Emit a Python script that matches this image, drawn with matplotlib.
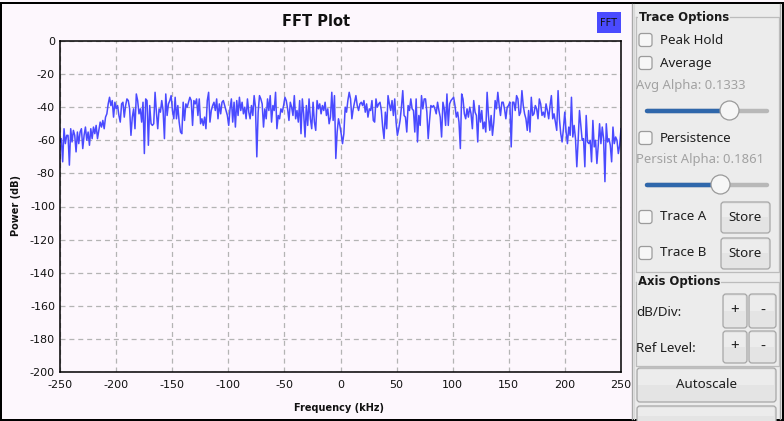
import numpy as np
import matplotlib
matplotlib.use("Agg")
import matplotlib.pyplot as plt
from matplotlib.patches import Rectangle, FancyBboxPatch, Circle

# ---------------- data ----------------
title = "FFT Plot"
x_label = "Frequency (kHz)"
y_label = "Power (dB)"
legend_label = "FFT"
freq_start, freq_stop = -250, 250
x_ticks = [-250, -200, -150, -100, -50, 0, 50, 100, 150, 200, 250]
y_ticks = [0, -20, -40, -60, -80, -100, -120, -140, -160, -180, -200]

power_seg1 = [-61, -59, -73, -53, -62, -57, -57, -75, -53, -61,
              -54, -57, -67, -55, -62, -55, -53, -65, -57, -52,
              -60, -55, -63, -53, -59, -52, -56, -51, -59, -54,
              -49, -52, -48, -53, -46, -44, -38, -34, -39, -36,
              -46, -37, -41, -39, -45, -49, -38, -37, -46, -39,
              -35, -36, -41, -57, -46, -41, -53, -32, -36, -44,
              -41, -49, -37, -68, -35, -36, -63, -39, -50, -51,
              -50, -31, -43, -53, -41, -43, -36, -42, -59, -32,
              -45, -38, -36, -33, -42, -47, -34, -47, -39, -49,
              -55, -56, -37, -48, -38, -40, -37, -34, -36, -51,
              -36, -38, -35, -45, -35, -50]
power_seg2 = [-47, -51, -46, -53, -36, -31, -49, -42, -39, -37,
              -42, -35, -47, -38, -44, -37, -36, -39, -42, -45,
              -51, -41, -35, -49, -37, -52, -36, -45, -34, -42,
              -37, -44, -40, -47, -35, -43, -47, -39, -45, -33,
              -40, -70, -43, -33, -35, -38, -52, -41, -47, -35,
              -42, -33, -49, -39, -42, -31, -53, -45, -47, -41,
              -43, -39, -34, -36, -41, -48, -37, -40, -45, -33,
              -47, -42, -49, -36, -56, -35, -44, -58, -39, -51,
              -35, -47, -53, -37, -49, -54, -36, -41, -38, -44,
              -39, -42, -37, -45, -41, -50, -46, -31, -48, -33,
              -71, -55, -47, -51, -56]
power_seg3 = [-62, -56, -40, -43, -36, -31, -35, -47, -41, -37,
              -33, -39, -42, -38, -37, -39, -36, -43, -38, -46,
              -41, -42, -36, -48, -49, -35, -40, -38, -37, -42,
              -52, -59, -43, -53, -33, -38, -42, -36, -45, -35,
              -49, -57, -53, -48, -40, -30, -45, -46, -55, -39,
              -42, -35, -41, -42, -55, -35, -61, -45, -51, -33,
              -41, -35, -35, -43, -59, -48, -39, -40, -39, -41,
              -44, -37, -42, -46, -58, -37, -41, -51, -32, -51,
              -38, -36, -35, -34, -39, -46, -43, -49, -65, -32,
              -35, -44, -47, -41, -46, -40, -44, -53, -36, -43,
              -45, -61, -39, -49, -42]
power_seg4 = [-53, -49, -55, -31, -45, -54, -45, -57, -49, -36,
              -41, -31, -39, -45, -37, -37, -41, -47, -40, -39,
              -37, -64, -37, -37, -42, -33, -35, -45, -43, -30,
              -39, -44, -47, -54, -42, -55, -34, -45, -44, -39,
              -41, -47, -35, -38, -45, -43, -46, -38, -42, -47,
              -39, -33, -47, -44, -49, -54, -30, -47, -56, -61,
              -53, -43, -55, -62, -52, -57, -34, -58, -51, -59,
              -76, -60, -42, -51, -60, -59, -76, -45, -61, -62,
              -60, -73, -48, -64, -60, -74, -63, -50, -62, -52,
              -59, -85, -50, -61, -59, -63, -73, -52, -62, -58,
              -60, -68, -63, -53]

power_db = np.array(power_seg1 + power_seg2 + power_seg3 + power_seg4, dtype=float)
freq_khz = np.linspace(freq_start, freq_stop, len(power_db))

# GUI panel texts
trace_group = "Trace Options"
axis_group = "Axis Options"
check_labels = ["Peak Hold", "Average", "Persistence", "Trace A", "Trace B"]
avg_alpha_label = "Avg Alpha: 0.1333"
persist_alpha_label = "Persist Alpha: 0.1861"
store_label = "Store"
axis_rows = ["dB/Div:", "Ref Level:"]
autoscale_label = "Autoscale"

# ---------------- style ----------------
W, H = 784, 421
plt.rcParams["axes.unicode_minus"] = False
plt.rcParams["lines.scale_dashes"] = False
bg = "#fdf7fd"
line_blue = "#4a4aff"
panel_bg = "#ececec"
gui_font = "Noto Sans"

fig = plt.figure(figsize=(W / 100, H / 100), dpi=100)
fig.patch.set_facecolor(bg)

def fx(px):
    return px / W

def fy(py):
    return 1 - py / H

ax = fig.add_axes([fx(60), fy(372), fx(621) - fx(60), fy(41) - fy(372)])
ax.set_facecolor(bg)
ax.plot(freq_khz, power_db, color=line_blue, lw=1.1)
ax.set_xlim(freq_start, freq_stop)
ax.set_ylim(y_ticks[-1], y_ticks[0])
ax.set_xticks(x_ticks)
ax.set_yticks(y_ticks)
ax.grid(True, color="#b4b4b4", linestyle=(0, (3.6, 2.8)), lw=0.9)
ax.tick_params(axis="x", length=0, pad=6.0, labelsize=8, colors="#111111")
ax.tick_params(axis="y", length=0, pad=3.6, labelsize=8, colors="#111111")
for s in ax.spines.values():
    s.set_color("black")
    s.set_linewidth(1.1)

# overlay in pixel coordinates
ov = fig.add_axes([0, 0, 1, 1], zorder=5)
ov.set_xlim(0, W)
ov.set_ylim(H, 0)
ov.axis("off")
ov.patch.set_alpha(0)

ov.text(316, 21, title, ha="center", va="center", fontsize=10.5, fontweight="bold", color="#111111")
ov.add_patch(Rectangle((597, 12), 24, 21, facecolor=line_blue, edgecolor="none"))
ov.text(609, 22.5, legend_label, ha="center", va="center", fontsize=7, color="#111111")
ov.text(16, 206, y_label, ha="center", va="center", rotation=90, fontsize=7, fontweight="bold", color="#111111")
ov.text(339, 408, x_label, ha="center", va="center", fontsize=7, fontweight="bold", color="#111111")

# outer frame
ov.add_patch(Rectangle((0, 1.5), W, 2.8, facecolor="black", edgecolor="none"))
ov.add_patch(Rectangle((0, 418.5), W, 2.5, facecolor="black", edgecolor="none"))
ov.add_patch(Rectangle((0, 1.5), 2.3, H, facecolor="black", edgecolor="none"))

# right panel
ov.add_patch(Rectangle((632, 4.3), 150, 414.2, facecolor=panel_bg, edgecolor="none"))
ov.plot([632.5, 632.5], [4.3, 418.5], color="#a8a8a8", lw=1)
ov.plot([634.5, 634.5], [4.3, 418.5], color="#d8d8d8", lw=0.8)
ov.plot([780.5, 780.5], [4.3, 418.5], color="#a8a8a8", lw=1)
ov.add_patch(Rectangle((782, 1.5), 2, H, facecolor="black", edgecolor="none"))

grp_col = "#bcbcbc"
# Trace options group
ov.plot([636, 779, 779, 636, 636], [17, 17, 272, 272, 17], color=grp_col, lw=0.9)
ov.text(639, 17, trace_group, ha="left", va="center", fontsize=8.4, fontweight="bold",
        family="DejaVu Sans", color="#1a1a1a", bbox=dict(facecolor=panel_bg, edgecolor="none", pad=0.5))
# Axis options group
ov.plot([636, 779, 779, 636, 636], [282, 282, 366, 366, 282], color=grp_col, lw=0.9)
ov.text(638, 282, axis_group, ha="left", va="center", fontsize=8.4, fontweight="bold",
        family="DejaVu Sans", color="#1a1a1a", bbox=dict(facecolor=panel_bg, edgecolor="none", pad=0.5))

check_y = [40, 63, 138, 217, 253]
for lab, cy in zip(check_labels, check_y):
    ov.add_patch(FancyBboxPatch((639, cy - 6.5), 13, 13, boxstyle="round,pad=0,rounding_size=2.5",
                                facecolor="#f7f7f7", edgecolor="#9c9c9c", lw=0.9))
    ov.text(660, cy, lab, ha="left", va="center", fontsize=9.6, family=gui_font, color="#1e1e1e")

ov.text(636, 86, avg_alpha_label, ha="left", va="center", fontsize=9.4, family=gui_font, color="#a2a2a2")
ov.text(636, 160, persist_alpha_label, ha="left", va="center", fontsize=9.4, family=gui_font, color="#a2a2a2")

def slider(y, hx):
    ov.plot([647, 767], [y, y], color="#b8b8b8", lw=3.2, solid_capstyle="round")
    ov.plot([647, hx], [y, y], color="#2f67ab", lw=3.2, solid_capstyle="round")
    ov.add_patch(Circle((hx, y), 9.5, facecolor="#f6f6f6", edgecolor="#9a9a9a", lw=0.9, zorder=6))

slider(110.5, 729.5)
slider(184.5, 720.5)

def button(x0, y0, x1, y1, label, fs=9.6):
    ov.add_patch(FancyBboxPatch((x0, y0), x1 - x0, y1 - y0, boxstyle="round,pad=0,rounding_size=3",
                                facecolor="#e4e4e4", edgecolor="#a6a6a6", lw=0.9))
    ov.add_patch(Rectangle((x0 + 1.5, y0 + 1.5), x1 - x0 - 3, (y1 - y0) * 0.45,
                           facecolor="#ececec", edgecolor="none"))
    if label:
        ov.text((x0 + x1) / 2, (y0 + y1) / 2, label, ha="center", va="center",
                fontsize=fs, family=gui_font, color="#1e1e1e", zorder=7)

button(721, 202, 770, 233, store_label)
button(721, 238, 770, 269, store_label)

row_y = [312, 348]
row_btn = [(294, 328), (331, 363)]
for lab, ry, (b0, b1) in zip(axis_rows, row_y, row_btn):
    ov.text(636, ry, lab, ha="left", va="center", fontsize=9.6, family=gui_font, color="#1e1e1e")
    button(723, b0, 747, b1, "+", fs=11)
    button(749, b0, 776, b1, "-", fs=11)

button(637, 368, 776, 402, autoscale_label)
button(637, 406, 776, 425, "")

fig.savefig("out.png", dpi=100, facecolor=fig.get_facecolor())
